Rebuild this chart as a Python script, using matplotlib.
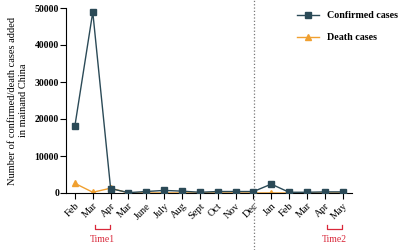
import matplotlib
matplotlib.use("Agg")
import matplotlib.pyplot as plt
from matplotlib.lines import Line2D

months = ["Feb", "Mar", "Apr", "Mar", "June", "July", "Aug", "Sept", "Oct",
          "Nov", "Dec", "Jan", "Feb", "Mar", "Apr", "May"]
confirmed = [18200, 48900, 1200, 100, 400, 700, 500, 200, 400,
             400, 400, 2400, 200, 200, 300, 300]
deaths = [2600, 200, 1300, 10, 10, 10, 10, 10, 10,
          10, 10, 10, 5, 5, 5, 5]

plt.rcParams["font.family"] = ["Liberation Serif", "DejaVu Serif"]

C_CONF = "#2b4a57"
C_DEATH = "#f0a030"
RED = "#d9283a"

fig = plt.figure(figsize=(4, 2.5), dpi=100)
ax = fig.add_axes([0.165, 0.228, 0.714, 0.74])

x = list(range(len(months)))
ax.plot(x, deaths, color=C_DEATH, lw=1.0, marker="^", ms=4, zorder=2)
ax.plot(x, confirmed, color=C_CONF, lw=1.0, marker="s", ms=4, zorder=3)

ax.set_xlim(-0.5, 15.5)
ax.set_ylim(0, 50000)
ax.set_yticks([0, 10000, 20000, 30000, 40000, 50000])
ax.set_xticks(x)
ax.set_xticklabels(months, rotation=45, ha="right", rotation_mode="anchor",
                   fontsize=7.5)
for lab in ax.get_yticklabels():
    lab.set_fontweight("bold")
    lab.set_fontsize(7)
ax.tick_params(axis="x", length=4, width=0.8, pad=2)
ax.tick_params(axis="y", length=4, width=0.8, pad=1)
for s in ["top", "right"]:
    ax.spines[s].set_visible(False)
for s in ["left", "bottom"]:
    ax.spines[s].set_linewidth(0.8)

ax.set_ylabel("Number of confirmed/death cases added\nin mainand China",
              fontsize=7.5, labelpad=5)

# dotted separator between years
ax.axvline(10.05, ymin=-0.31, ymax=1.05, clip_on=False, ls=":",
           color="#777777", lw=0.9)

# Time brackets
def bracket(x0, x1, label):
    tr = ax.get_xaxis_transform()
    yb = -0.195
    ax.plot([x0, x0, x1, x1], [yb + 0.02, yb, yb, yb + 0.02], color=RED,
            lw=0.9, transform=tr, clip_on=False)
    ax.text((x0 + x1) / 2, yb - 0.03, label, color=RED, fontsize=7,
            ha="center", va="top", transform=tr)

bracket(1.12, 1.97, "Time1")
bracket(14.1, 14.95, "Time2")

handles = [Line2D([], [], color=C_CONF, marker="s", ms=4, lw=1.0),
           Line2D([], [], color=C_DEATH, marker="^", ms=4, lw=1.0)]
fig.legend(handles, ["Confirmed cases", "Death cases"], loc="upper left",
           bbox_to_anchor=(0.72, 0.99), frameon=False,
           prop={"weight": "bold", "size": 7.2}, handlelength=2.2,
           labelspacing=1.3, handletextpad=0.8)

fig.savefig("out.png", dpi=100)
